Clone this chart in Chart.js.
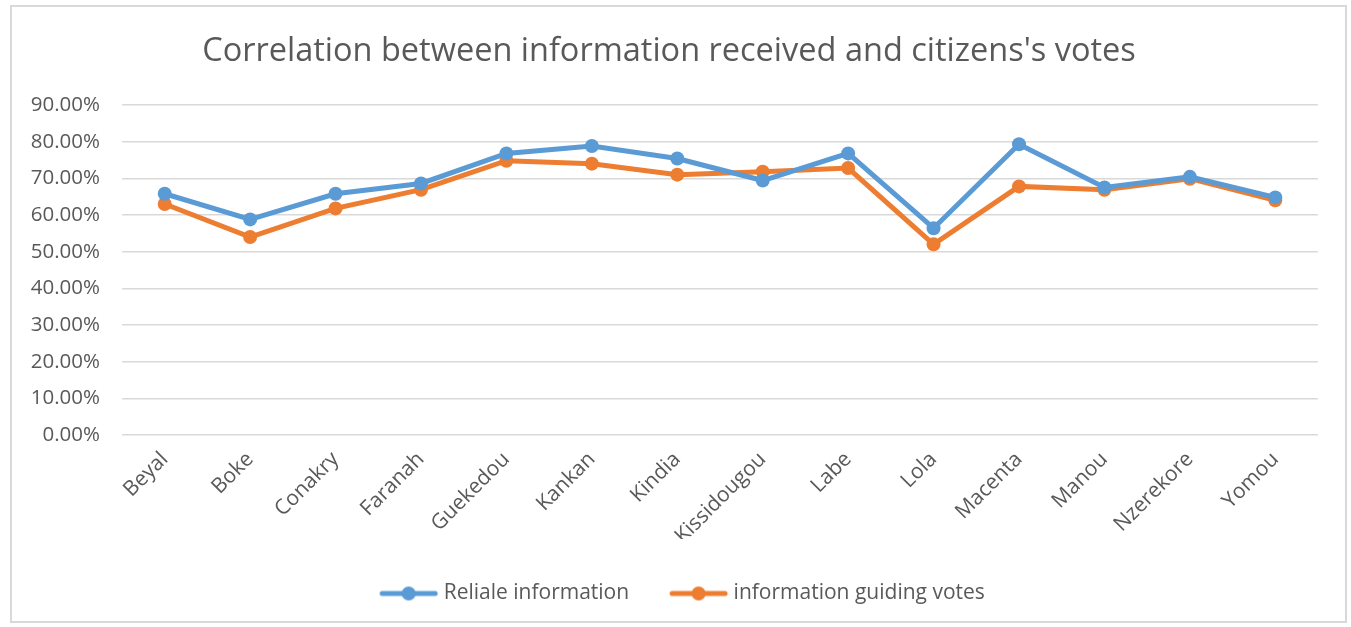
<!DOCTYPE html>
<html>
<head>
<meta charset="utf-8">
<script src="https://cdn.jsdelivr.net/npm/chart.js"></script>
<style>
  html, body { margin: 0; padding: 0; background: #fff; }
  #wrap { position: relative; width: 1351px; height: 627px; }
</style>
</head>
<body>
<div id="wrap"><canvas id="voteChart" width="1351" height="627"></canvas></div>
<script>
const regions = ['Beyal', 'Boke', 'Conakry', 'Faranah', 'Guekedou', 'Kankan', 'Kindia',
  'Kissidougou', 'Labe', 'Lola', 'Macenta', 'Manou', 'Nzerekore', 'Yomou'];
const reliableInfo = [65.8, 58.8, 65.8, 68.6, 76.8, 78.8, 75.4, 69.4, 76.8, 56.4, 79.3, 67.5, 70.4, 64.8];
const guidingVotes = [63.0, 54.0, 61.8, 66.9, 74.8, 74.0, 71.0, 71.8, 72.8, 52.0, 67.8, 66.9, 69.9, 64.0];
const yTicks = [0, 10, 20, 30, 40, 50, 60, 70, 80, 90];

const fontFamily = "'Open Sans', 'Noto Sans', sans-serif";
const textColor = '#595959';

// line-with-dot swatch for the legend, like the Excel one
function legendSwatch(color) {
  const c = document.createElement('canvas');
  c.width = 62; c.height = 18;
  const g = c.getContext('2d');
  g.strokeStyle = color;
  g.lineWidth = 5;
  g.lineCap = 'round';
  g.beginPath(); g.moveTo(5, 9); g.lineTo(58, 9); g.stroke();
  g.fillStyle = color;
  g.beginPath(); g.arc(31.5, 9, 7, 0, Math.PI * 2); g.fill();
  return c;
}

const frame = {
  id: 'frame',
  afterLayout(chart) {
    // legend sits a bit right of centre in the original
    chart.legend.left += 15;
    chart.legend.right += 15;
  },
  afterDraw(chart) {
    const ctx = chart.ctx;
    ctx.save();
    ctx.strokeStyle = '#d9d9d9';
    ctx.lineWidth = 2;
    ctx.strokeRect(11, 6, 1335, 616);
    ctx.restore();
  }
};

const ctx = document.getElementById('voteChart').getContext('2d');
const voteChart = new Chart(ctx, {
  type: 'line',
  data: {
    labels: regions,
    datasets: [{
      label: 'Reliale information',
      data: reliableInfo,
      borderColor: '#5B9BD5',
      backgroundColor: '#5B9BD5',
      borderWidth: 5,
      pointRadius: 7,
      pointHoverRadius: 8,
      pointBorderWidth: 0,
      tension: 0
    }, {
      label: 'information guiding votes',
      data: guidingVotes,
      borderColor: '#ED7D31',
      backgroundColor: '#ED7D31',
      borderWidth: 5,
      pointRadius: 7,
      pointHoverRadius: 8,
      pointBorderWidth: 0,
      tension: 0
    }]
  },
  options: {
    responsive: false,
    animation: false,
    layout: {
      padding: { top: 20, left: 20, right: 33, bottom: 13 }
    },
    plugins: {
      title: {
        display: true,
        text: "Correlation between information received and citizens's votes",
        color: textColor,
        font: { family: fontFamily, size: 32.5, weight: 'normal' },
        padding: { top: 12, bottom: 34 }
      },
      legend: {
        position: 'bottom',
        labels: {
          color: textColor,
          font: { family: fontFamily, size: 21 },
          usePointStyle: true,
          pointStyleWidth: 50,
          boxHeight: 18,
          padding: 44,
          generateLabels(chart) {
            return chart.data.datasets.map((ds, i) => ({
              text: ds.label,
              fontColor: textColor,
              pointStyle: legendSwatch(ds.borderColor),
              hidden: !chart.isDatasetVisible(i),
              datasetIndex: i,
              lineWidth: 0,
              strokeStyle: 'transparent',
              fillStyle: ds.borderColor
            }));
          }
        }
      },
      tooltip: {
        callbacks: {
          label: function(item) {
            return item.dataset.label + ': ' + item.raw.toFixed(2) + '%';
          }
        }
      }
    },
    scales: {
      x: {
        offset: true,
        grid: { display: false, drawTicks: false },
        border: { display: false },
        ticks: {
          color: textColor,
          font: { family: fontFamily, size: 21 },
          minRotation: 45,
          maxRotation: 45,
          padding: 12
        },
        afterFit(scale) { scale.height = 104; }
      },
      y: {
        min: 0,
        max: 90,
        afterBuildTicks(scale) {
          scale.ticks = yTicks.map(v => ({ value: v }));
        },
        grid: { color: '#d9d9d9', lineWidth: 1.5, drawTicks: false },
        border: { display: false },
        ticks: {
          color: textColor,
          font: { family: fontFamily, size: 20.5 },
          padding: 22,
          callback: function(v) { return v.toFixed(2) + '%'; }
        },
        afterFit(scale) { scale.width = 102; }
      }
    }
  },
  plugins: [frame]
});
</script>
</body>
</html>
